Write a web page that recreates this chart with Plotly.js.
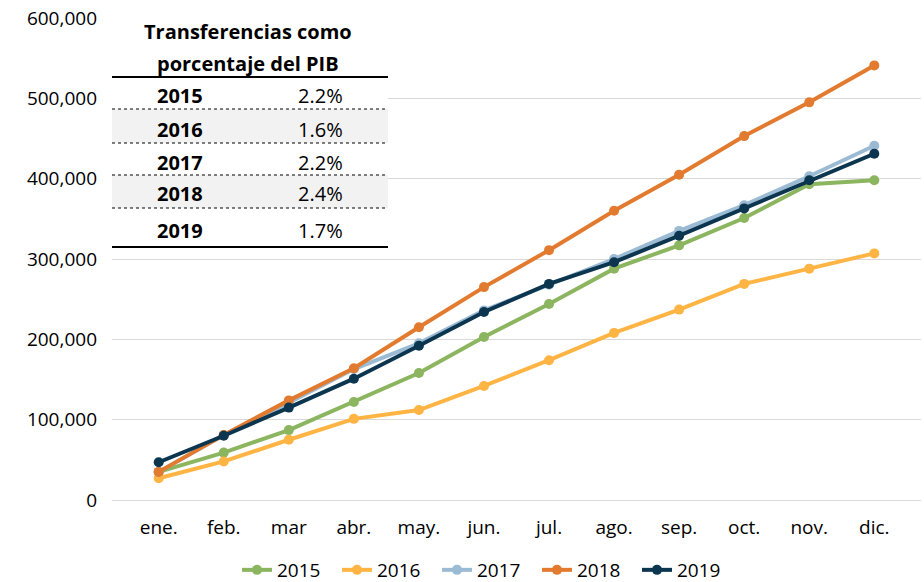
<!DOCTYPE html>
<html>
<head>
<meta charset="utf-8">
<script src="https://cdn.plot.ly/plotly-3.0.1.min.js"></script>
<style>
html,body{margin:0;padding:0;background:#fff;}
#chart{width:924px;height:582px;}
</style>
</head>
<body>
<div id="chart"></div>
<script>
// ---- Data ----
const months = ["ene.","feb.","mar","abr.","may.","jun.","jul.","ago.","sep.","oct.","nov.","dic."];
const seriesNames = ["2015","2016","2017","2018","2019"];
const v2015 = [35000, 59000, 87000, 122000, 158000, 203000, 244000, 288000, 317000, 351000, 393000, 398000];
const v2016 = [27000, 48000, 75000, 101000, 112000, 142000, 174000, 208000, 237000, 269000, 288000, 307000];
const v2017 = [35000, 81000, 121000, 163000, 195000, 236000, 268000, 300000, 335000, 367000, 403000, 441000];
const v2018 = [35000, 81000, 124000, 164000, 215000, 265000, 311000, 360000, 405000, 453000, 495000, 541000];
const v2019 = [47000, 80000, 115000, 151000, 192000, 234000, 269000, 296000, 329000, 363000, 398000, 431000];
const tableTitle = ["Transferencias como", "porcentaje del PIB"];
const tableYears = ["2015","2016","2017","2018","2019"];
const tablePct = ["2.2%","1.6%","2.2%","2.4%","1.7%"];
const yTicks = [0, 100000, 200000, 300000, 400000, 500000, 600000];
const yTickLabels = ["0","100,000","200,000","300,000","400,000","500,000","600,000"];

// ---- Styles ----
const colors = ["#8cb55f", "#ffb443", "#9bbbd4", "#e27b2f", "#0c3650"];
const allValues = [v2015, v2016, v2017, v2018, v2019];
const FONT = "'Open Sans', sans-serif";

const traces = allValues.map((vals, i) => ({
  type: "scatter",
  mode: "lines+markers",
  name: seriesNames[i],
  x: months,
  y: vals,
  line: {color: colors[i], width: 4},
  marker: {color: colors[i], size: 10},
  hoverinfo: "x+y+name"
}));

// ---- Table (drawn in paper coords) ----
const W = 924, H = 582;
const L = 112, R = 3, T = 18, B = 82;
const pw = W - L - R, ph = H - T - B;
const px = x => (x - L) / pw;
const py = y => (H - B - y) / ph;

const tblLeft = 112, tblRight = 388;
const rowEdges = [77, 109, 143, 175, 208, 247];
const rowText = [96, 129, 162, 193, 230];
const shapes = [];
shapes.push({type:"rect", xref:"paper", yref:"paper", x0:px(tblLeft), x1:px(tblRight), y0:py(247), y1:py(5), fillcolor:"#ffffff", line:{width:0}, layer:"above"});
[1,3].forEach(r => {
  shapes.push({type:"rect", xref:"paper", yref:"paper", x0:px(tblLeft), x1:px(tblRight), y0:py(rowEdges[r+1]), y1:py(rowEdges[r]), fillcolor:"#f2f2f2", line:{width:0}, layer:"above"});
});
[rowEdges[0], rowEdges[5]].forEach(y => {
  shapes.push({type:"line", xref:"paper", yref:"paper", x0:px(tblLeft), x1:px(tblRight), y0:py(y), y1:py(y), line:{color:"#000", width:2}, layer:"above"});
});
[rowEdges[1], rowEdges[2], rowEdges[3], rowEdges[4]].forEach(y => {
  shapes.push({type:"line", xref:"paper", yref:"paper", x0:px(tblLeft), x1:px(tblRight), y0:py(y), y1:py(y), line:{color:"#000", width:1, dash:"dot"}, layer:"above"});
});

const annotations = [];
tableTitle.forEach((t, i) => {
  annotations.push({xref:"paper", yref:"paper", x:px(248), y:py(i === 0 ? 31 : 63), text:"<b>"+t+"</b>", showarrow:false, xanchor:"center", yanchor:"middle", font:{family:FONT, size:20, color:"#000"}});
});
tableYears.forEach((yr, i) => {
  annotations.push({xref:"paper", yref:"paper", x:px(180), y:py(rowText[i]), text:"<b>"+yr+"</b>", showarrow:false, xanchor:"center", yanchor:"middle", font:{family:FONT, size:20, color:"#000"}});
  annotations.push({xref:"paper", yref:"paper", x:px(320), y:py(rowText[i]), text:tablePct[i], showarrow:false, xanchor:"center", yanchor:"middle", font:{family:FONT, size:20, color:"#000"}});
});

const layout = {
  width: W, height: H,
  margin: {l: L, r: R, t: T, b: B, autoexpand: false},
  paper_bgcolor: "#fff",
  plot_bgcolor: "#fff",
  font: {family: FONT, size: 19, color: "#000"},
  showlegend: true,
  legend: {
    orientation: "h",
    x: px(487), xanchor: "center",
    y: py(589), yanchor: "bottom",
    font: {family: FONT, size: 19, color: "#000"},
    traceorder: "normal",
    entrywidth: 55,
    entrywidthmode: "pixels"
  },
  xaxis: {
    type: "category",
    showgrid: false,
    zeroline: false,
    showline: false,
    ticks: "",
    tickfont: {family: FONT, size: 19, color: "#000"},
    ticklabelstandoff: 14,
    fixedrange: true
  },
  yaxis: {
    range: [0, 600000],
    tickvals: yTicks,
    ticktext: yTickLabels,
    showgrid: true,
    gridcolor: "#d9d9d9",
    gridwidth: 1,
    zeroline: true,
    zerolinecolor: "#d9d9d9",
    showline: false,
    ticks: "",
    tickfont: {family: FONT, size: 19, color: "#000"},
    ticklabelstandoff: 14,
    fixedrange: true
  },
  shapes: shapes,
  annotations: annotations
};

Plotly.newPlot("chart", traces, layout, {displayModeBar: false, staticPlot: true});
</script>
</body>
</html>
